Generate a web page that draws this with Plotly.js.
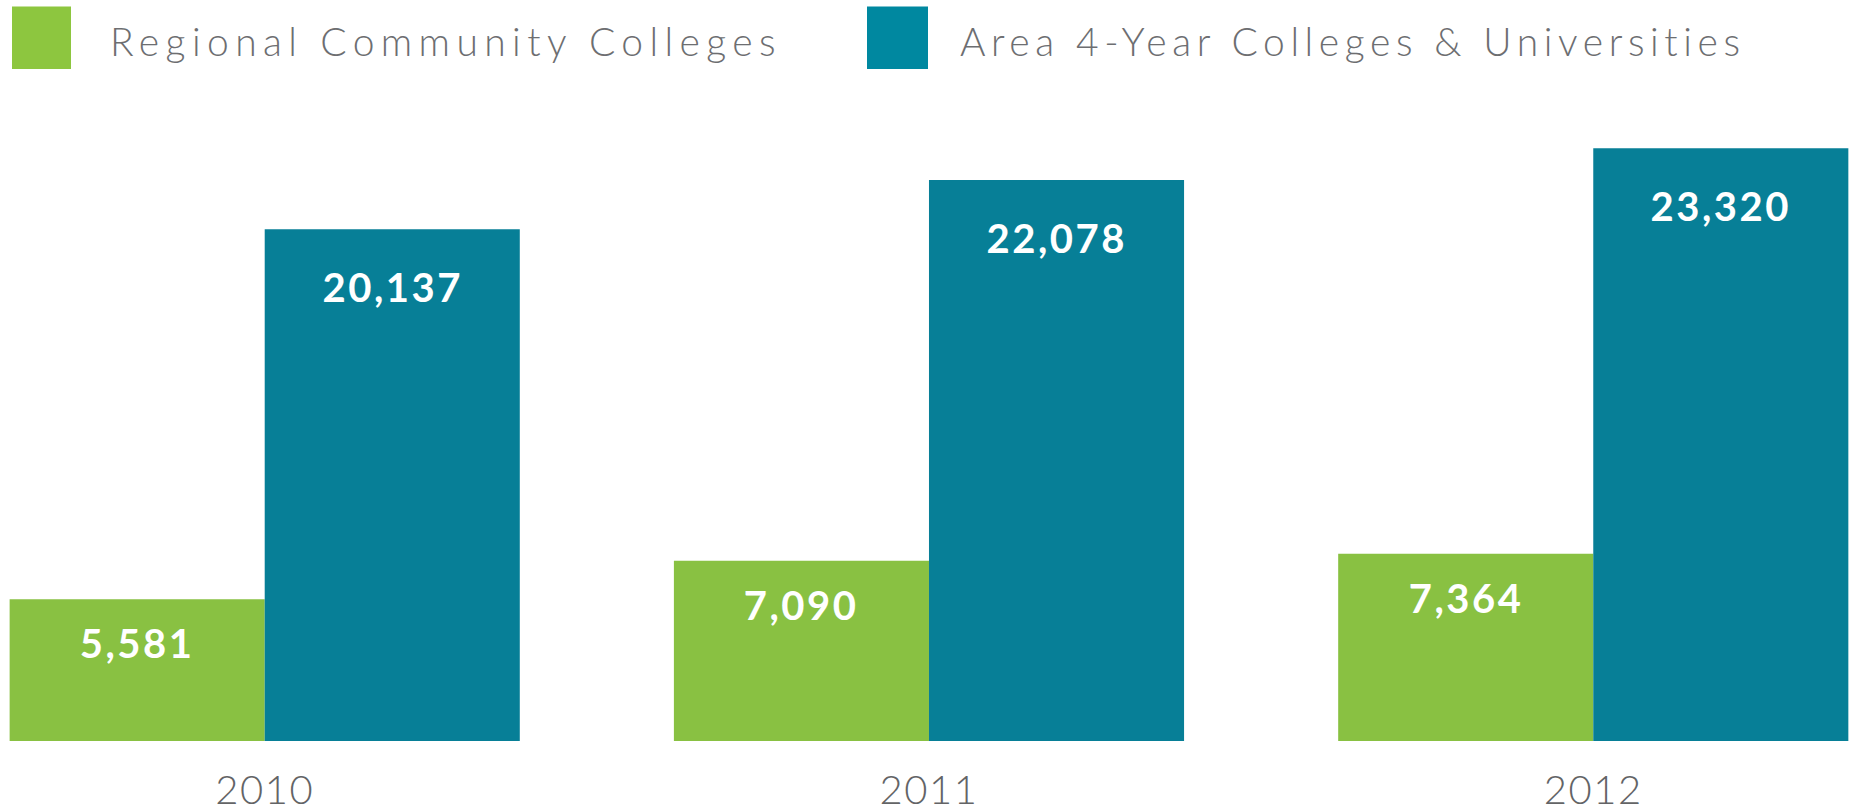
<!DOCTYPE html>
<html>
<head>
<meta charset="utf-8">
<script src="https://cdn.plot.ly/plotly-3.0.1.min.js"></script>
<style>
  html, body { margin: 0; padding: 0; background: #fff; }
  #chart { width: 1849px; height: 812px; }
  .annotation text { letter-spacing: 2.5px; }
  .annotation[data-index="0"] text { letter-spacing: 6.4px; }
  .annotation[data-index="1"] text { letter-spacing: 5.6px; }
  .xtick text { letter-spacing: 1.5px; }
</style>
</head>
<body>
<div id="chart"></div>
<script>
// ---- data ----
const years = ['2010', '2011', '2012'];
const communityColleges = [5581, 7090, 7364];
const fourYearColleges = [20137, 22078, 23320];
const seriesNames = ['Regional Community Colleges', 'Area 4-Year Colleges & Universities'];
const seriesValues = [communityColleges, fourYearColleges];

// ---- styles ----
const barColors = ['#89C142', '#077F97'];
const legendColors = ['#8DC63F', '#0088A0'];
const labelShift = [-44, -58];
const W = 1849, H = 812;
const plotTop = 100, plotBottom = 741;
const bargap = 0.232;
const barW = (1 - bargap) / 2;
const yMax = (plotBottom - plotTop) * 39.35;

const px2x = px => px / W;
const px2y = py => (plotBottom - py) / (plotBottom - plotTop);

const idx = years.map((_, i) => i);

const traces = seriesNames.map((name, s) => ({
  type: 'bar',
  name: name,
  x: idx,
  y: seriesValues[s],
  marker: { color: barColors[s], line: { width: 0 } },
  hoverinfo: 'skip',
  showlegend: false
}));

const annotations = [];
// legend texts (indices 0,1)
const legendTextX = [108, 958];
seriesNames.forEach((name, s) => {
  annotations.push({
    xref: 'paper', yref: 'paper',
    x: px2x(legendTextX[s]), y: px2y(41),
    xanchor: 'left', yanchor: 'middle', align: 'left',
    text: name, showarrow: false,
    font: { family: 'Lato', size: 39, color: '#6D6E71', weight: 300 }
  });
});
// bar value labels
seriesValues.forEach((vals, s) => {
  vals.forEach((v, i) => {
    annotations.push({
      xref: 'x', yref: 'y',
      x: i + (s === 0 ? -barW / 2 : barW / 2), y: v,
      xanchor: 'center', yanchor: 'middle', yshift: labelShift[s],
      text: v.toLocaleString('en-US'), showarrow: false,
      font: { family: 'Lato', size: 40, color: '#FFFFFF', weight: 700 }
    });
  });
});

const legendSquares = [[12, 71], [867, 928]];
const shapes = legendSquares.map((xs, s) => ({
  type: 'rect', xref: 'paper', yref: 'paper',
  x0: px2x(xs[0]), x1: px2x(xs[1]), y0: px2y(69), y1: px2y(6.5),
  fillcolor: legendColors[s], line: { width: 0 }
}));

const layout = {
  width: W, height: H,
  margin: { l: 0, r: 0, t: plotTop, b: H - plotBottom, pad: 0 },
  paper_bgcolor: '#FFFFFF', plot_bgcolor: '#FFFFFF',
  barmode: 'group', bargap: bargap, bargroupgap: 0,
  showlegend: false,
  xaxis: {
    type: 'linear',
    range: [-0.3985, 2.385],
    tickvals: idx, ticktext: years,
    ticks: 'outside', ticklen: 14, tickcolor: 'rgba(0,0,0,0)',
    showgrid: false, zeroline: false, showline: false,
    tickfont: { family: 'Lato', size: 40, color: '#636466', weight: 300 },
    fixedrange: true
  },
  yaxis: {
    range: [0, yMax],
    showgrid: false, zeroline: false, showline: false,
    showticklabels: false, ticks: '',
    fixedrange: true
  },
  annotations: annotations,
  shapes: shapes
};

Plotly.newPlot('chart', traces, layout, { displayModeBar: false, staticPlot: true });
</script>
</body>
</html>
